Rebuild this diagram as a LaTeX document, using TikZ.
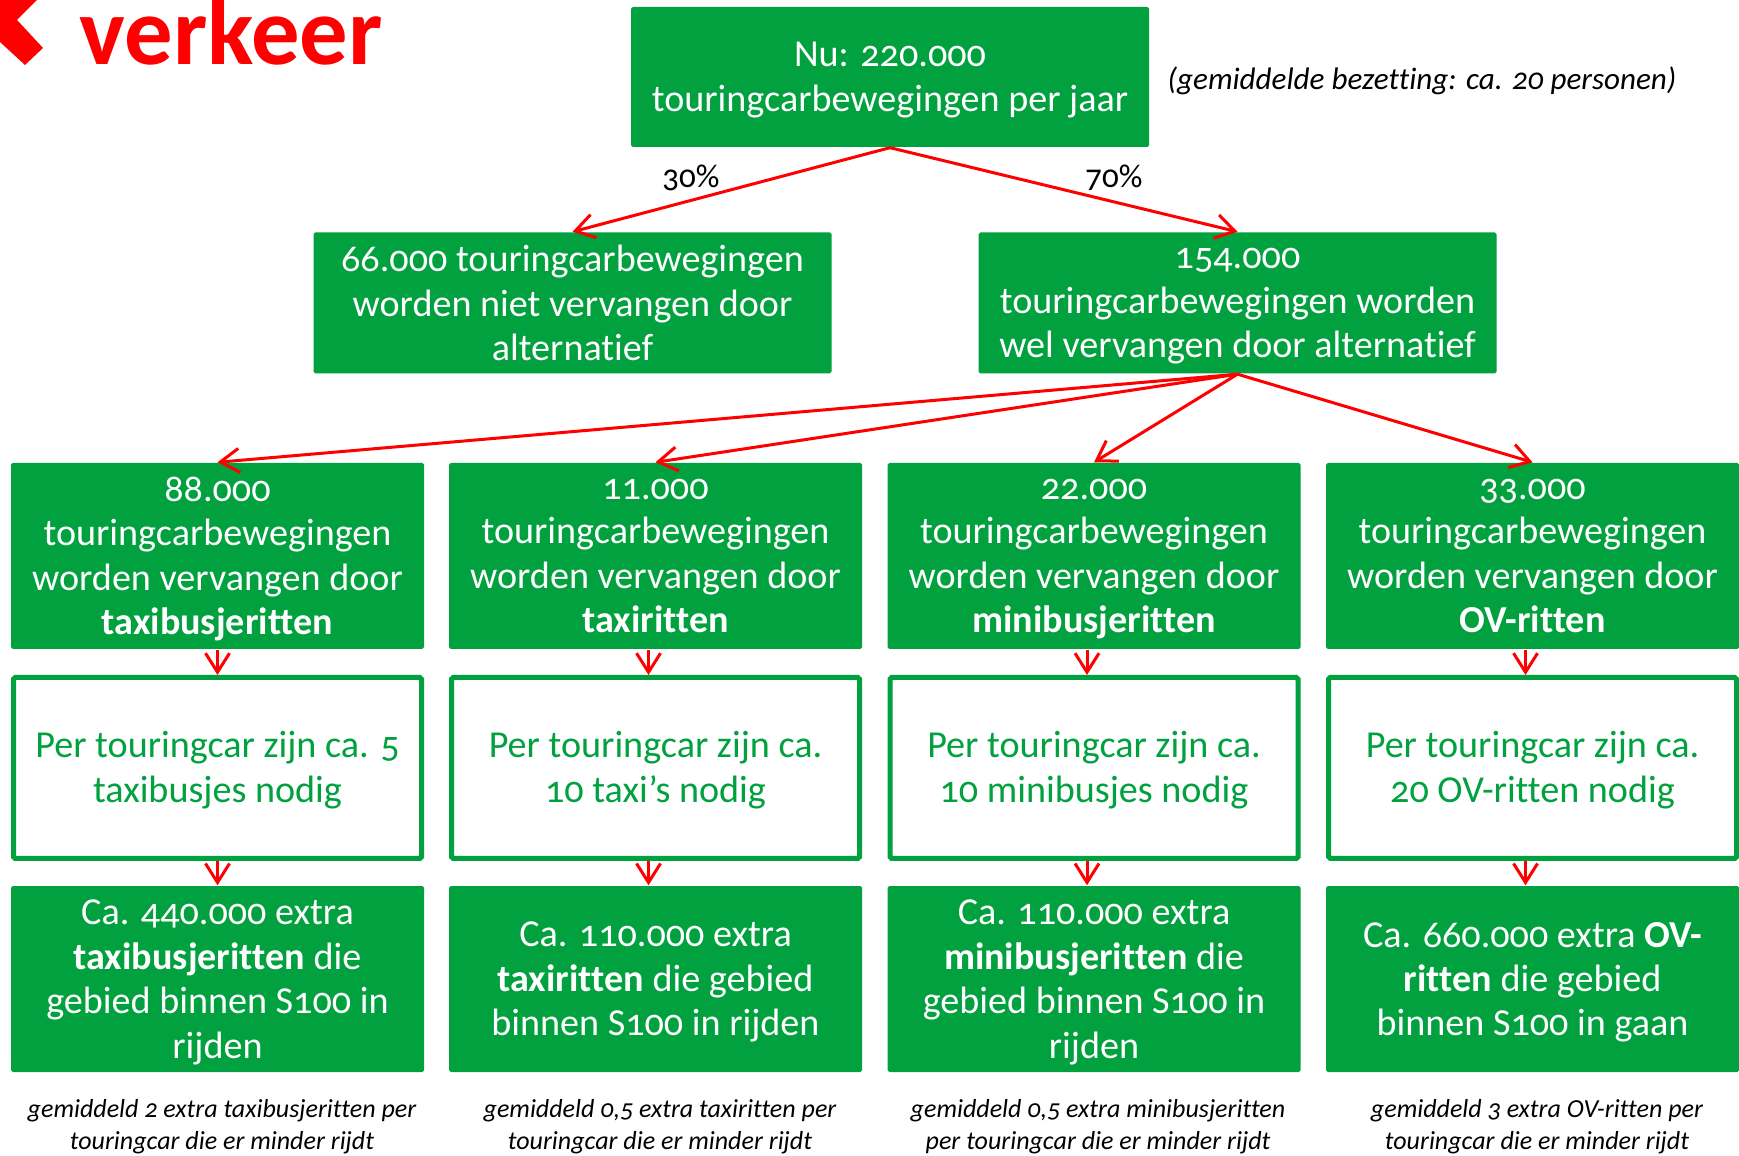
\documentclass[tikz,border=0pt]{standalone}
\usepackage{fontspec}
\setmainfont[Numbers=OldStyle,Ligatures=NoCommon]{Carlito}
\usetikzlibrary{arrows.meta}
\definecolor{dgreen}{RGB}{0,161,62}
\definecolor{dred}{RGB}{255,0,0}

\begin{document}
\begin{tikzpicture}[
  greenbox/.style={fill=dgreen, text=white, inner sep=0pt, rounded corners=0.5pt, align=center,
    font=\fontsize{10.85}{12.65}\selectfont, text depth=-1pt},
  linebox/.style={draw=dgreen, line width=0.05cm, fill=white, text=dgreen, inner sep=0pt, rounded corners=0.5pt,
    align=center, minimum width=4.08cm, minimum height=1.81cm, font=\fontsize{10.85}{12.65}\selectfont,
    text depth=0.6pt},
  colbox/.style={greenbox, minimum width=4.13cm, minimum height=1.86cm},
  widebox/.style={greenbox, minimum width=5.18cm, minimum height=1.41cm},
  note/.style={align=center, font=\fontsize{7.4}{9.1}\selectfont\itshape},
  perc/.style={font=\fontsize{9.4}{10}\selectfont, text=black, inner sep=0pt},
  link/.style={draw=dred, line width=0.03cm, ->},
  >={Straight Barb[length=0.19cm, width=0.24cm]}
]
\useasboundingbox (0,0) rectangle (17.39,11.55);

% Title
\fill[dred] (0,11.55) -- (0.37,11.55) -- (0.17,11.35) -- (0.43,11.07) -- (0.25,10.90) -- (0,11.13) -- cycle;
\node[anchor=base west, text=dred, inner sep=0pt, font=\fontsize{27.5}{30}\selectfont\bfseries] (title) at (0.79,10.90) {verkeer};

% Upper layers
\node[widebox, minimum height=1.40cm] (nu) at (8.90,10.78)
  {Nu: 220.000\\touringcarbewegingen per jaar};
\node[anchor=west, inner sep=0pt, font=\fontsize{8.85}{10}\selectfont\itshape] (bezetting) at (11.67,10.74)
  {(gemiddelde bezetting: ca. 20 personen)};
\node[widebox] (niet) at (5.725,8.52)
  {66.000 touringcarbewegingen\\worden niet vervangen door\\alternatief};
\node[widebox] (wel) at (12.375,8.52)
  {154.000\\touringcarbewegingen worden\\wel vervangen door alternatief};

% Kinds of ride
\node[colbox] (taxibus) at (2.175,5.99)
  {88.000\\touringcarbewegingen\\worden vervangen door\\\textbf{taxibusjeritten}};
\node[colbox] (taxi) at (6.555,5.99)
  {11.000\\touringcarbewegingen\\worden vervangen door\\\textbf{taxiritten}};
\node[colbox] (minibus) at (10.94,5.99)
  {22.000\\touringcarbewegingen\\worden vervangen door\\\textbf{minibusjeritten}};
\node[colbox] (ov) at (15.325,5.99)
  {33.000\\touringcarbewegingen\\worden vervangen door\\\textbf{OV-ritten}};

% Factors
\node[linebox] (taxibusfactor) at (2.175,3.87)
  {Per touringcar zijn ca. 5\\taxibusjes nodig};
\node[linebox] (taxifactor) at (6.555,3.87)
  {Per touringcar zijn ca.\\10 taxi's nodig};
\node[linebox] (minibusfactor) at (10.94,3.87)
  {Per touringcar zijn ca.\\10 minibusjes nodig};
\node[linebox] (ovfactor) at (15.325,3.87)
  {Per touringcar zijn ca.\\20 OV-ritten nodig};

% Extra rides
\node[colbox] (taxibusextra) at (2.175,1.76)
  {Ca. 440.000 extra\\\textbf{taxibusjeritten} die\\gebied binnen S100 in\\rijden};
\node[colbox] (taxiextra) at (6.555,1.76)
  {Ca. 110.000 extra\\\textbf{taxiritten} die gebied\\binnen S100 in rijden};
\node[colbox] (minibusextra) at (10.94,1.76)
  {Ca. 110.000 extra\\\textbf{minibusjeritten} die\\gebied binnen S100 in\\rijden};
\node[colbox] (ovextra) at (15.325,1.76)
  {Ca. 660.000 extra \textbf{OV-}\\\textbf{ritten} die gebied\\binnen S100 in gaan};

% Footnotes
\node[note] (taxibusnote) at (2.22,0.28)
  {gemiddeld 2 extra taxibusjeritten per\\touringcar die er minder rijdt};
\node[note] (taxinote) at (6.60,0.28)
  {gemiddeld 0,5 extra taxiritten per\\touringcar die er minder rijdt};
\node[note] (minibusnote) at (10.98,0.28)
  {gemiddeld 0,5 extra minibusjeritten\\per touringcar die er minder rijdt};
\node[note] (ovnote) at (15.37,0.28)
  {gemiddeld 3 extra OV-ritten per\\touringcar die er minder rijdt};

% Percentages
\node[perc] (dertig) at (6.91,9.77) {30\%};
\node[perc] (zeventig) at (11.14,9.77) {70\%};

% Connectors
\draw[link] (nu.south) -- (niet.north);
\draw[link] (nu.south) -- (wel.north);
\draw[link] (wel.south) -- (taxibus.north);
\draw[link] (wel.south) -- (taxi.north);
\draw[link] (wel.south) -- (minibus.north);
\draw[link] (wel.south) -- (ov.north);

\draw[link] (taxibus.south) -- (taxibusfactor.north);
\draw[link] ([xshift=-0.07cm]taxi.south) -- ([xshift=-0.07cm]taxifactor.north);
\draw[link] ([xshift=-0.07cm]minibus.south) -- ([xshift=-0.07cm]minibusfactor.north);
\draw[link] ([xshift=-0.07cm]ov.south) -- ([xshift=-0.07cm]ovfactor.north);
\draw[link] (taxibusfactor.south) -- (taxibusextra.north);
\draw[link] ([xshift=-0.07cm]taxifactor.south) -- ([xshift=-0.07cm]taxiextra.north);
\draw[link] ([xshift=-0.07cm]minibusfactor.south) -- ([xshift=-0.07cm]minibusextra.north);
\draw[link] ([xshift=-0.07cm]ovfactor.south) -- ([xshift=-0.07cm]ovextra.north);

\end{tikzpicture}
\end{document}
